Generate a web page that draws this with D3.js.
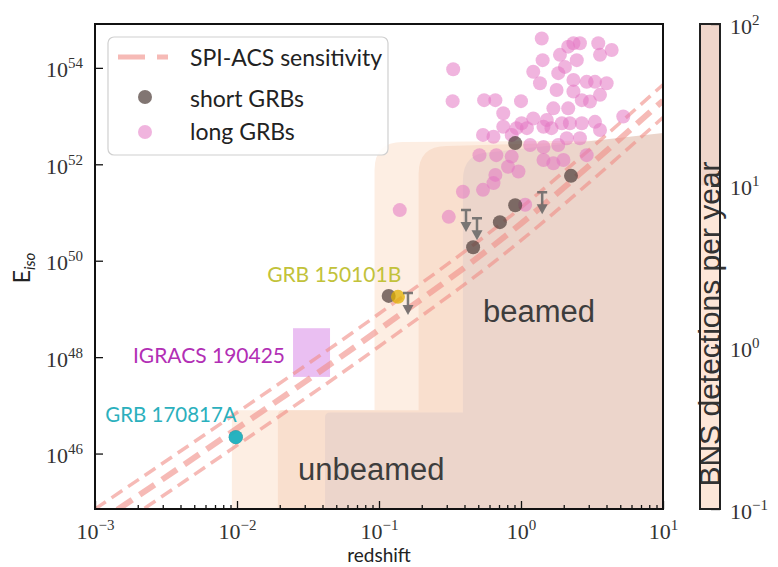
<!DOCTYPE html>
<html lang="en">
<head>
<meta charset="UTF-8">
<title>GRB energetics vs redshift</title>
<script src="https://cdn.jsdelivr.net/npm/d3@7"></script>
<style>
    body { margin: 0; background: #fff; }
    svg text { font-family: "Lato", "Liberation Sans", sans-serif; }
    .tick text { font-family: "Liberation Serif", serif; font-size: 22px; fill: #333; }
    .tick line { stroke: #111; stroke-width: 1.3; }
</style>
</head>
<body>
<div id="chart"></div>
<script>
// ---- data (redshift z, log10 E_iso) ----
var longZ = [1.40, 0.333, 0.33, 0.55, 0.66, 1.0, 1.22, 1.42, 1.88, 2.15, 2.34, 2.60, 3.50, 3.60, 4.35, 2.47, 2.04, 1.83, 1.36, 1.78,
             2.34, 2.90, 3.32, 4.01, 2.34, 2.68, 3.06, 3.60, 1.69, 2.15, 1.52, 1.22, 1.01, 0.75, 0.75, 0.93, 1.10, 1.44, 1.64, 1.94,
             2.21, 2.68, 3.32, 3.60, 5.25, 0.54, 0.64, 0.86, 1.16, 1.44, 1.83, 2.10, 2.60, 0.51, 0.67, 0.86, 0.81, 0.96, 1.44, 1.69,
             1.99, 2.90, 0.66, 0.64, 0.54, 0.39, 0.14, 0.31, 1.07];
var longLogE = [54.61, 53.97, 53.31, 53.33, 53.33, 53.31, 53.92, 54.16, 54.27, 54.44, 54.51, 54.51, 54.51, 54.27, 54.37, 54.16, 54.02, 53.89, 53.68, 53.54,
                53.75, 53.71, 53.71, 53.68, 53.51, 53.33, 53.30, 53.44, 53.16, 53.16, 52.92, 52.95, 52.85, 53.06, 52.78, 52.75, 52.75, 52.78, 52.75, 52.85,
                52.85, 52.85, 52.88, 52.71, 52.99, 52.61, 52.57, 52.61, 52.40, 52.36, 52.40, 52.54, 52.54, 52.19, 52.19, 52.16, 51.95, 51.85, 52.09, 52.02,
                52.09, 52.19, 51.78, 51.61, 51.47, 51.43, 51.05, 50.91, 51.16];

var shortZ    = [0.117, 0.46, 0.71, 0.91, 2.25, 0.91, 0.0098];
var shortLogE = [49.27, 50.28, 50.80, 51.15, 51.76, 52.44, 46.34];

var limitZ    = [0.16, 0.41, 0.49, 1.41];
var limitLogE = [49.33, 51.05, 50.88, 51.42];

// SPI-ACS sensitivity curves
var sensZ      = [0.001, 0.01, 0.1, 1, 3.16, 10];
var sensUpper  = [44.85, 46.85, 48.90, 51.10, 52.35, 53.65];
var sensMiddle = [44.52, 46.52, 48.57, 50.77, 52.02, 53.32];
var sensLower  = [44.17, 46.17, 48.22, 50.42, 51.67, 52.97];

// detection-horizon regions (three rate levels each)
var unbeamedZmin = [0.0092, 0.0194, 0.0417];
var unbeamedTop  = [46.90, 46.90, 46.85];
var beamedZmin     = [0.093, 0.19, 0.39];
var beamedTopLeft  = [52.46, 52.38, 52.25];
var beamedTopRight = [52.50, 52.50, 52.65];

// highlighted events
var grb170817 = { z: 0.0098, logE: 46.34 };
var grb150101 = { z: 0.136, logE: 49.25 };
var igracsZ    = [0.0248, 0.0452];
var igracsLogE = [47.59, 48.60];

// colour bar
var cbarEdges = [0.1, 10, 100];

var xTicks  = [1e-3, 1e-2, 1e-1, 1e0, 1e1];
var xTickExp = ['\u22123', '\u22122', '\u22121', '0', '1'];
var yTicks  = [46, 48, 50, 52, 54];
var cTicks  = [0.1, 1, 10, 100];
var cTickExp = ['\u22121', '0', '1', '2'];

// ---- layout ----
var plot = { left: 95, top: 24, right: 663, bottom: 509 };
var cbar = { left: 700, right: 720 };
var layerColors = ['#fdeee3', '#f9dfce', '#ecd5cb'];
var cbarColors = ['#fde6d8', '#f0d6cb'];
var shortColor = '#50403c';

var x = d3.scaleLog().domain([1e-3, 1e1]).range([plot.left, plot.right]);
var y = d3.scaleLinear().domain([44.85, 54.91]).range([plot.bottom, plot.top]);
var c = d3.scaleLog().domain([0.1, 100]).range([plot.bottom, plot.top]);

var svg = d3.select('#chart').append('svg')
    .attr('width', 778)
    .attr('height', 567);

svg.append('defs').append('clipPath').attr('id', 'clip')
    .append('rect')
    .attr('x', plot.left).attr('y', plot.top)
    .attr('width', plot.right - plot.left).attr('height', plot.bottom - plot.top);

var g = svg.append('g').attr('clip-path', 'url(#clip)');

function regionPath(zMin, topL, topR, r)
{
    var x0 = x(zMin), x1 = x(1e1), yl = y(topL), yr = y(topR), yb = y(44.85);
    return 'M' + x0 + ',' + yb +
           'L' + x0 + ',' + (yl + r) +
           'Q' + x0 + ',' + yl + ' ' + (x0 + r) + ',' + yl +
           'L' + x1 + ',' + yr +
           'L' + x1 + ',' + yb + 'Z';
}

// lighter levels first so the darker ones sit on top
[0, 1, 2].forEach(function(i)
{
    g.append('path')
        .attr('d', regionPath(beamedZmin[i], beamedTopLeft[i], beamedTopRight[i], 28))
        .attr('fill', layerColors[i]);
    g.append('path')
        .attr('d', regionPath(unbeamedZmin[i], unbeamedTop[i], unbeamedTop[i], 5))
        .attr('fill', layerColors[i]);
});

// IGRACS 190425 box
g.append('rect')
    .attr('x', x(igracsZ[0]))
    .attr('y', y(igracsLogE[1]))
    .attr('width', x(igracsZ[1]) - x(igracsZ[0]))
    .attr('height', y(igracsLogE[0]) - y(igracsLogE[1]))
    .attr('fill', '#d98be8')
    .attr('opacity', 0.55);

// sensitivity lines
var line = d3.line()
    .x(function(d) { return x(d[0]); })
    .y(function(d) { return y(d[1]); })
    .curve(d3.curveMonotoneX);

var sensStyles = [
    { vals: sensUpper,  w: 3.5, dash: '13 7' },
    { vals: sensMiddle, w: 6,   dash: '18 9' },
    { vals: sensLower,  w: 3.5, dash: '13 7' }
];
sensStyles.forEach(function(s)
{
    g.append('path')
        .datum(d3.zip(sensZ, s.vals))
        .attr('d', line)
        .attr('fill', 'none')
        .attr('stroke', '#f08c86')
        .attr('stroke-opacity', 0.6)
        .attr('stroke-width', s.w)
        .attr('stroke-dasharray', s.dash);
});

// long GRBs
g.selectAll('circle.long')
    .data(d3.zip(longZ, longLogE))
    .enter().append('circle')
    .attr('class', 'long')
    .attr('cx', function(d) { return x(d[0]); })
    .attr('cy', function(d) { return y(d[1]); })
    .attr('r', 7)
    .attr('fill', '#e377c2')
    .attr('fill-opacity', 0.55);

// short GRBs
g.selectAll('circle.short')
    .data(d3.zip(shortZ, shortLogE))
    .enter().append('circle')
    .attr('class', 'short')
    .attr('cx', function(d) { return x(d[0]); })
    .attr('cy', function(d) { return y(d[1]); })
    .attr('r', 7)
    .attr('fill', shortColor)
    .attr('fill-opacity', 0.72);

g.append('circle')
    .attr('cx', x(grb150101.z)).attr('cy', y(grb150101.logE)).attr('r', 7)
    .attr('fill', '#e0b000').attr('fill-opacity', 0.75);
g.append('circle')
    .attr('cx', x(grb170817.z)).attr('cy', y(grb170817.logE)).attr('r', 7)
    .attr('fill', '#17becf').attr('fill-opacity', 0.85);

// upper limits
var limits = g.selectAll('g.limit')
    .data(d3.zip(limitZ, limitLogE))
    .enter().append('g')
    .attr('class', 'limit')
    .attr('transform', function(d) { return 'translate(' + x(d[0]) + ',' + y(d[1]) + ')'; })
    .attr('opacity', 0.85);
limits.append('path')
    .attr('d', 'M-5,0H5M0,0V15')
    .attr('stroke', '#666')
    .attr('stroke-width', 2.5)
    .attr('fill', 'none');
limits.append('path')
    .attr('d', 'M-5.5,12L5.5,12L0,22Z')
    .attr('fill', '#666');

// annotations
function label(text, z, logE, color, anchor, size)
{
    svg.append('text')
        .attr('x', x(z)).attr('y', y(logE))
        .attr('text-anchor', anchor || 'start')
        .attr('fill', color)
        .style('font-size', (size || 21) + 'px')
        .text(text);
}
label('GRB 150101B', 0.0163, 49.56, '#c2c23a');
label('IGRACS 190425', 0.0218, 47.88, '#b22fb5', 'end');
label('GRB 170817A', 0.00118, 46.66, '#2bb0bd', 'start', 20.5);

svg.append('text')
    .attr('x', x(0.54)).attr('y', y(48.73))
    .attr('fill', '#3d3d3d')
    .style('font-family', '"Liberation Sans", Arial, sans-serif')
    .style('font-size', '31px')
    .text('beamed');
svg.append('text')
    .attr('x', x(0.0269)).attr('y', y(45.45))
    .attr('fill', '#3d3d3d')
    .style('font-family', '"Liberation Sans", Arial, sans-serif')
    .style('font-size', '31px')
    .text('unbeamed');

// ---- axes ----
function supText(sel, exps)
{
    sel.each(function(d, i)
    {
        var t = d3.select(this).text(null);
        t.append('tspan').text('10');
        t.append('tspan').attr('dy', -9).style('font-size', '15px').text(exps[i]);
    });
}

var xMinor = [];
[-3, -2, -1, 0].forEach(function(k)
{
    for (var m = 2; m <= 9; m++) xMinor.push(m * Math.pow(10, k));
});

svg.append('g')
    .attr('transform', 'translate(0,' + plot.bottom + ')')
    .call(d3.axisBottom(x).tickValues(xMinor).tickSize(-4).tickFormat(''))
    .call(function(a) { a.select('.domain').remove(); });

var xAxis = svg.append('g')
    .attr('transform', 'translate(0,' + plot.bottom + ')')
    .call(d3.axisBottom(x).tickValues(xTicks).tickSize(-8).tickFormat(''));
xAxis.select('.domain').remove();
xAxis.selectAll('.tick text').attr('y', 30).attr('dy', null)
    .call(supText, xTickExp);

var yAxis = svg.append('g')
    .attr('transform', 'translate(' + plot.left + ',0)')
    .call(d3.axisLeft(y).tickValues(yTicks).tickSize(-8).tickPadding(12).tickFormat(''));
yAxis.select('.domain').remove();
yAxis.selectAll('.tick text').attr('dy', null).attr('y', 9)
    .call(supText, yTicks.map(String));

// plot frame
svg.append('rect')
    .attr('x', plot.left).attr('y', plot.top)
    .attr('width', plot.right - plot.left).attr('height', plot.bottom - plot.top)
    .attr('fill', 'none').attr('stroke', '#111').attr('stroke-width', 2);

svg.append('text')
    .attr('x', (plot.left + plot.right) / 2).attr('y', 562)
    .attr('text-anchor', 'middle')
    .attr('fill', '#222')
    .style('font-size', '19px')
    .text('redshift');

var yLab = svg.append('text')
    .attr('transform', 'translate(30,268) rotate(-90)')
    .attr('text-anchor', 'middle')
    .attr('fill', '#222')
    .style('font-size', '23px');
yLab.append('tspan').text('E');
yLab.append('tspan').attr('dy', 5).style('font-size', '15px').style('font-style', 'italic').text('iso');

// ---- colour bar ----
svg.selectAll('rect.cbin')
    .data(d3.pairs(cbarEdges))
    .enter().append('rect')
    .attr('class', 'cbin')
    .attr('x', cbar.left)
    .attr('y', function(d) { return c(d[1]); })
    .attr('width', cbar.right - cbar.left)
    .attr('height', function(d) { return c(d[0]) - c(d[1]); })
    .attr('fill', function(d, i) { return cbarColors[i]; });

var cAxis = svg.append('g')
    .attr('transform', 'translate(' + cbar.right + ',0)')
    .call(d3.axisRight(c).tickValues(cTicks).tickSize(-9).tickPadding(10).tickFormat(''));
cAxis.select('.domain').remove();
cAxis.selectAll('.tick text').attr('dy', null).attr('y', 9)
    .call(supText, cTickExp);

svg.append('text')
    .attr('transform', 'translate(720,324) rotate(-90)')
    .attr('text-anchor', 'middle')
    .attr('fill', '#333')
    .style('font-family', '"Liberation Sans", Arial, sans-serif')
    .style('font-size', '30px')
    .text('BNS detections per year');

svg.append('rect')
    .attr('x', cbar.left).attr('y', plot.top)
    .attr('width', cbar.right - cbar.left).attr('height', plot.bottom - plot.top)
    .attr('fill', 'none').attr('stroke', '#222').attr('stroke-width', 2);

// ---- legend ----
var legend = svg.append('g').attr('transform', 'translate(108,37)');
legend.append('rect')
    .attr('width', 280).attr('height', 118).attr('rx', 6)
    .attr('fill', '#fff').attr('fill-opacity', 0.85)
    .attr('stroke', '#d0d0d0').attr('stroke-width', 1.2);
legend.append('line')
    .attr('x1', 10).attr('x2', 60).attr('y1', 20).attr('y2', 20)
    .attr('stroke', '#f08c86').attr('stroke-opacity', 0.6)
    .attr('stroke-width', 5).attr('stroke-dasharray', '27 12');
legend.append('circle').attr('cx', 37).attr('cy', 60).attr('r', 7)
    .attr('fill', shortColor).attr('fill-opacity', 0.72);
legend.append('circle').attr('cx', 37).attr('cy', 95).attr('r', 7)
    .attr('fill', '#e377c2').attr('fill-opacity', 0.55);
legend.selectAll('text.entry')
    .data(['SPI-ACS sensitivity', 'short GRBs', 'long GRBs'])
    .enter().append('text')
    .attr('class', 'entry')
    .attr('x', 82)
    .attr('y', function(d, i) { return [29, 70, 103][i]; })
    .attr('fill', '#222')
    .style('font-size', '23px')
    .text(function(d) { return d; });
</script>
</body>
</html>
